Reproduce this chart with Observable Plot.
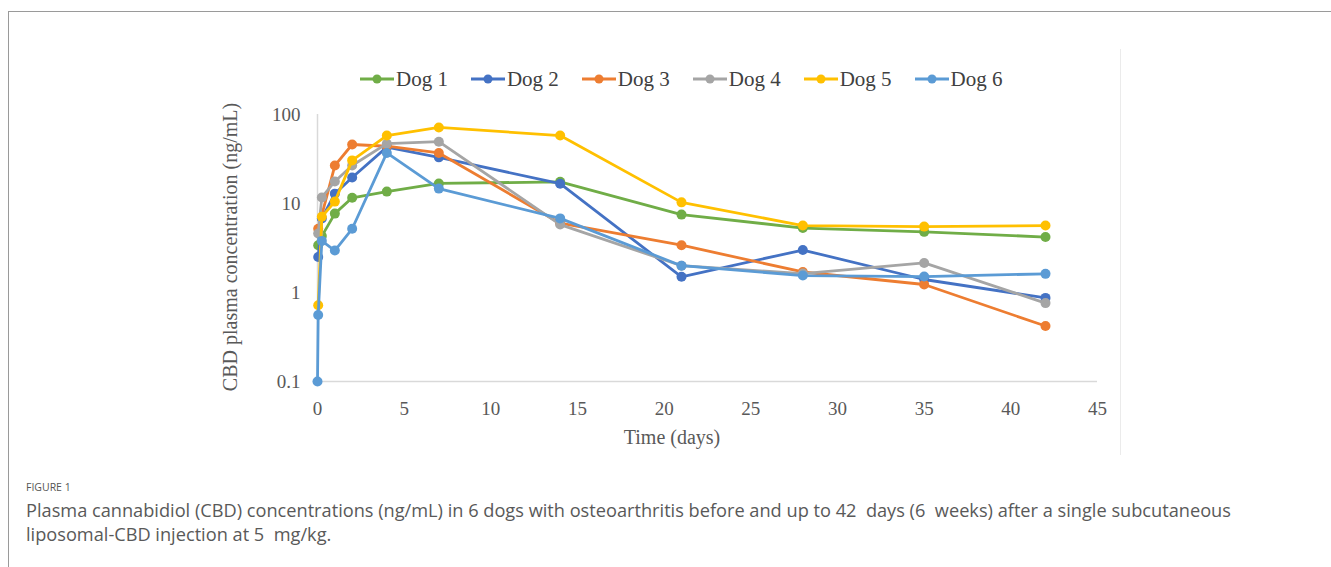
<!DOCTYPE html>
<html><head><meta charset="utf-8">
<script src="https://cdn.jsdelivr.net/npm/d3@7"></script>
<script src="https://cdn.jsdelivr.net/npm/@observablehq/plot@0.6"></script>
<style>
body{margin:0;background:#fff;width:1331px;height:567px;overflow:hidden;position:relative;}
#chart{position:absolute;left:0;top:0;}
#card{position:absolute;left:8px;top:11px;width:1400px;height:700px;border-left:1.5px solid #9a9a9a;border-top:1.5px solid #9a9a9a;pointer-events:none;}
#imgedge{position:absolute;left:1120px;top:49px;width:0;height:406px;border-left:1px solid #ebebeb;}
#legend{position:absolute;left:360px;top:66px;height:26px;display:flex;align-items:center;font-family:"Liberation Serif",serif;font-size:21px;color:#404040;white-space:nowrap;}
#legend .item{display:flex;align-items:center;margin-right:23px;}
#legend svg{margin-right:2px;}
.ylab{position:absolute;left:230px;top:247px;transform:translate(-50%,-50%) rotate(-90deg);font-family:"Liberation Serif",serif;font-size:20px;color:#595959;white-space:nowrap;}
.xlab{position:absolute;left:672px;top:437px;transform:translate(-50%,-50%);font-family:"Liberation Serif",serif;font-size:20px;color:#595959;white-space:nowrap;}
#fig{position:absolute;left:26px;top:480px;font-family:"Open Sans",sans-serif;font-size:10.5px;color:#555;}
#cap{position:absolute;left:26px;top:499px;font-family:"Open Sans",sans-serif;font-size:18.2px;line-height:23.5px;color:#595959;white-space:nowrap;}
</style></head>
<body>
<div id="chart"></div>
<div id="imgedge"></div>
<div id="legend"></div>
<div class="ylab">CBD plasma concentration (ng/mL)</div>
<div class="xlab">Time (days)</div>
<div id="fig">FIGURE 1</div>
<div id="cap">Plasma cannabidiol (CBD) concentrations (ng/mL) in 6 dogs with osteoarthritis before and up to 42&nbsp;&nbsp;days (6&nbsp;&nbsp;weeks) after a single subcutaneous<br>liposomal-CBD injection at 5&nbsp;&nbsp;mg/kg.</div>
<div id="card"></div>
<script>
// ---- data ----
const days = [0, 0.04, 0.25, 1, 2, 4, 7, 14, 21, 28, 35, 42];
const dogNames = ["Dog 1", "Dog 2", "Dog 3", "Dog 4", "Dog 5", "Dog 6"];
const dog1 = [null, 3.4, 4.3, 7.7, 11.6, 13.6, 16.8, 17.5, 7.5, 5.3, 4.8, 4.2];
const dog2 = [null, 2.5, 6.8, 12.9, 19.6, 43, 33, 16.7, 1.5, 3.0, 1.4, 0.87];
const dog3 = [null, 5.2, null, 26.7, 46, 44, 37, 6.0, 3.4, 1.7, 1.23, 0.42];
const dog4 = [null, 4.6, 11.7, 17.7, 26.7, 47, 49.5, 5.8, 2.0, 1.63, 2.15, 0.76];
const dog5 = [null, 0.72, 7.1, 10.5, 30.5, 58, 71.5, 58, 10.3, 5.65, 5.5, 5.65];
const dog6 = [0.1, 0.56, 3.8, 2.96, 5.2, 37, 14.7, 6.8, 2.0, 1.55, 1.51, 1.62];
const xTicks = [0, 5, 10, 15, 20, 25, 30, 35, 40, 45];
const yTicks = [0.1, 1, 10, 100];
const yTickLabels = ["0.1", "1", "10", "100"];
const colors = ["#70AD47", "#4472C4", "#ED7D31", "#A5A5A5", "#FFC000", "#5B9BD5"];

const series = [dog1, dog2, dog3, dog4, dog5, dog6];
const rows = [];
series.forEach((vals, i) => vals.forEach((v, j) => {
  if (v != null) rows.push({dog: dogNames[i], day: days[j], conc: v});
}));

const seriesMarks = dogNames.flatMap((name, i) => {
  const d = rows.filter(r => r.dog === name);
  return [
    Plot.line(d, {x: "day", y: "conc", stroke: colors[i], strokeWidth: 2.8}),
    Plot.dot(d, {x: "day", y: "conc", fill: colors[i], r: 5})
  ];
});

const chart = Plot.plot({
  width: 1331,
  height: 470,
  marginLeft: 317,
  marginRight: 234,
  marginTop: 114,
  marginBottom: 89,
  style: {fontFamily: "Liberation Serif, serif", fontSize: "19px", color: "#595959", background: "none"},
  x: {domain: [0, 45]},
  y: {type: "log", domain: [0.1, 100]},
  marks: [
    Plot.ruleY([0.1], {stroke: "#d9d9d9", strokeWidth: 1.5}),
    Plot.ruleX([0], {stroke: "#d9d9d9", strokeWidth: 1.5}),
    ...seriesMarks,
    Plot.axisX({ticks: xTicks, tickSize: 0, tickPadding: 20, label: null, tickFormat: d => String(d)}),
    Plot.axisY({ticks: yTicks, tickSize: 0, tickPadding: 17, label: null, tickFormat: d => yTickLabels[yTicks.indexOf(d)]})
  ]
});
document.getElementById("chart").appendChild(chart);

// legend
const leg = document.getElementById("legend");
dogNames.forEach((name, i) => {
  const item = document.createElement("div");
  item.className = "item";
  item.innerHTML = `<svg width="34" height="12"><line x1="0" y1="6" x2="34" y2="6" stroke="${colors[i]}" stroke-width="2.8"/><circle cx="17" cy="6" r="4.5" fill="${colors[i]}"/></svg><span>${name}</span>`;
  leg.appendChild(item);
});
</script>
</body></html>
